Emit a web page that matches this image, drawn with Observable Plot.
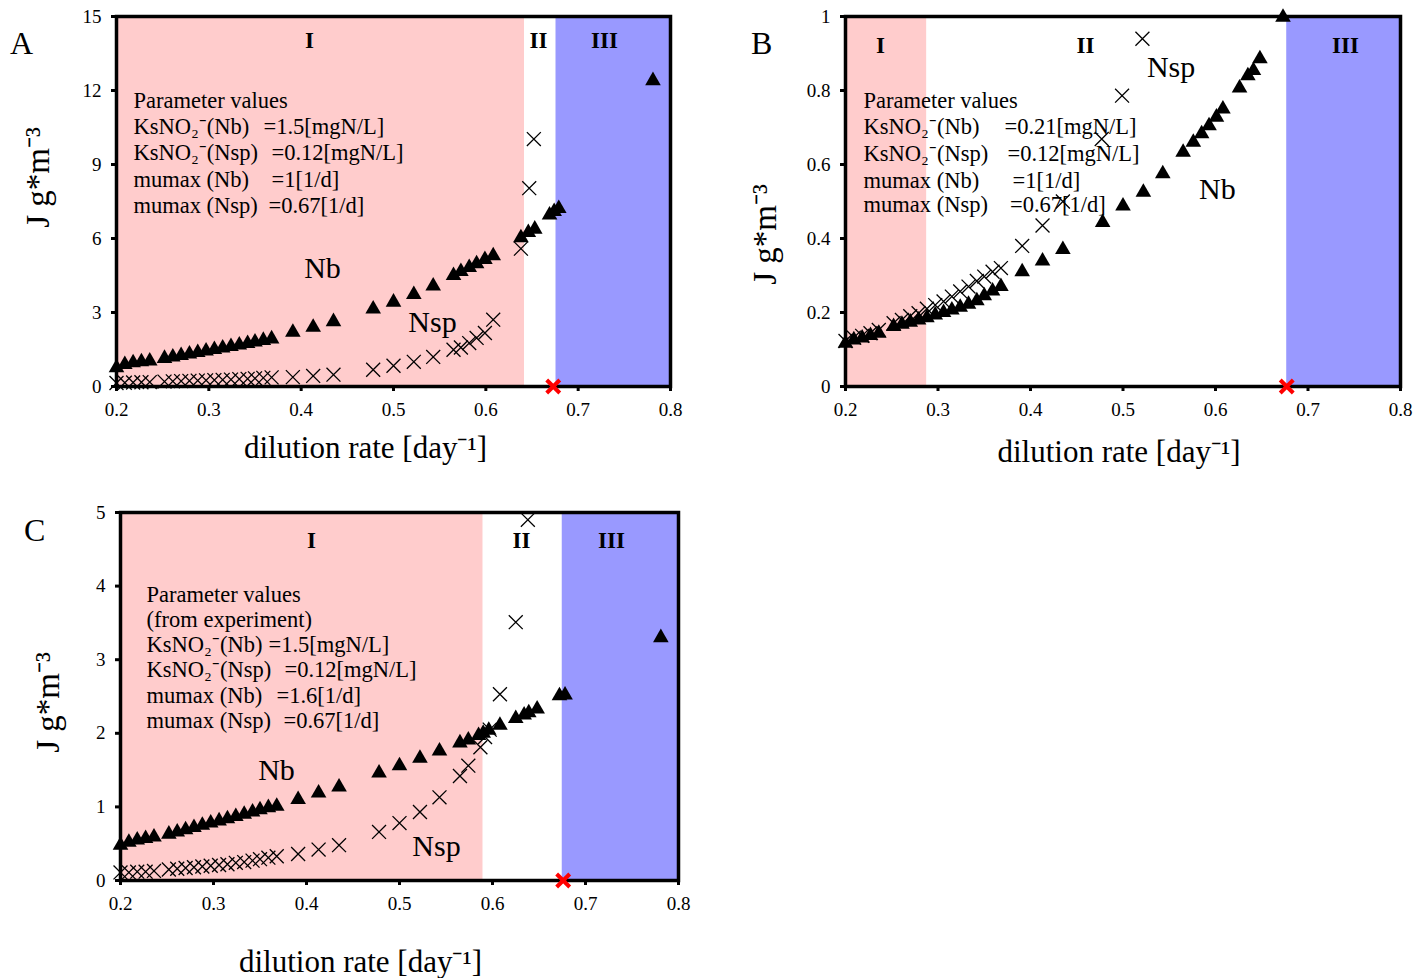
<!DOCTYPE html>
<html><head><meta charset="utf-8">
<script src="https://cdn.jsdelivr.net/npm/d3@7"></script>
<script src="https://cdn.jsdelivr.net/npm/@observablehq/plot@0.6"></script>
<style>
body{margin:0;background:#fff;width:1428px;height:978px;position:relative;overflow:hidden;font-family:"Liberation Serif",serif;}
.panel{position:absolute;}
.letter{position:absolute;font-size:32px;font-family:"Liberation Serif",serif;line-height:1;color:#000;}
</style></head><body>
<div id="pA" class="panel" style="left:0px;top:0px"></div>
<div id="pB" class="panel" style="left:720px;top:0px"></div>
<div id="pC" class="panel" style="left:0px;top:495px"></div>
<div class="letter" style="left:10px;top:27px">A</div>
<div class="letter" style="left:751px;top:27px">B</div>
<div class="letter" style="left:24px;top:514px">C</div>
<script>
// ---------- data ----------
const xLow = [0.200, 0.209, 0.218, 0.227, 0.236,
  0.252, 0.261, 0.270, 0.279, 0.288, 0.297, 0.306, 0.315, 0.324, 0.333, 0.342, 0.350, 0.359, 0.368,
  0.391, 0.413, 0.435, 0.478, 0.500, 0.522, 0.543];
const xTicks = [0.2, 0.3, 0.4, 0.5, 0.6, 0.7, 0.8];

// Panel A
const xA_Nb = [...xLow, 0.565, 0.573, 0.582, 0.590, 0.599, 0.608, 0.638, 0.646, 0.653, 0.669, 0.674, 0.679, 0.781];
const A_Nb = [0.76, 0.89, 0.96, 1.00, 1.03, 1.14, 1.20, 1.26, 1.32, 1.38, 1.44, 1.50, 1.56, 1.62, 1.68, 1.74, 1.80, 1.87, 1.93,
  2.20, 2.40, 2.63, 3.14, 3.42, 3.73, 4.07, 4.50, 4.66, 4.82, 4.98, 5.15, 5.30, 6.03, 6.24, 6.38, 6.95, 7.09, 7.22, 12.4];
const xA_Nsp = [...xLow, 0.565, 0.573, 0.582, 0.590, 0.599, 0.608, 0.638, 0.647, 0.652];
const A_Nsp = [0.14, 0.15, 0.16, 0.17, 0.18, 0.20, 0.21, 0.22, 0.23, 0.24, 0.25, 0.26, 0.27, 0.28, 0.30, 0.31, 0.33, 0.35, 0.37,
  0.38, 0.43, 0.48, 0.68, 0.84, 1.00, 1.20, 1.49, 1.58, 1.76, 1.97, 2.17, 2.71, 5.59, 8.04, 10.03];
const A_bounds = [0.2, 0.642, 0.676, 0.8];
const A_yTicks = [0, 3, 6, 9, 12, 15];

// Panel B
const xB_Nb = [...xLow, 0.565, 0.576, 0.585, 0.593, 0.601, 0.608, 0.626, 0.635, 0.641, 0.648, 0.673];
const B_Nb = [0.117, 0.126, 0.131, 0.138, 0.144, 0.162, 0.168, 0.174, 0.180, 0.186, 0.193, 0.200, 0.207, 0.214, 0.222, 0.232, 0.245, 0.258, 0.270,
  0.310, 0.339, 0.370, 0.443, 0.488, 0.525, 0.575, 0.633, 0.660, 0.683, 0.705, 0.728, 0.750, 0.807, 0.840, 0.854, 0.886, 0.998];
const xB_Nsp = [...xLow.slice(0, 22), 0.477, 0.499, 0.521];
const B_Nsp = [0.123, 0.132, 0.137, 0.144, 0.153, 0.171, 0.180, 0.190, 0.198, 0.210, 0.220, 0.230, 0.243, 0.257, 0.270, 0.285, 0.297, 0.310, 0.320,
  0.380, 0.435, 0.500, 0.669, 0.786, 0.940];
const B_bounds = [0.2, 0.288, 0.677, 0.8];
const B_yTicks = [0, 0.2, 0.4, 0.6, 0.8, 1];

// Panel C
const xC_Nb = [...xLow, 0.565, 0.574, 0.585, 0.590, 0.596, 0.608, 0.625, 0.634, 0.639, 0.648, 0.672, 0.678, 0.781];
const C_Nb = [0.48, 0.52, 0.55, 0.57, 0.59, 0.63, 0.66, 0.69, 0.72, 0.75, 0.78, 0.81, 0.84, 0.87, 0.90, 0.93, 0.96, 0.99, 1.01,
  1.10, 1.19, 1.27, 1.46, 1.56, 1.66, 1.76, 1.87, 1.91, 1.97, 2.00, 2.04, 2.11, 2.20, 2.25, 2.28, 2.33, 2.51, 2.52, 3.30];
const xC_Nsp = [...xLow, 0.565, 0.574, 0.587, 0.592, 0.597, 0.608, 0.625, 0.638];
const C_Nsp = [0.11, 0.11, 0.12, 0.12, 0.13, 0.15, 0.16, 0.17, 0.18, 0.19, 0.20, 0.21, 0.22, 0.24, 0.25, 0.27, 0.29, 0.31, 0.33,
  0.36, 0.42, 0.48, 0.66, 0.78, 0.93, 1.13, 1.42, 1.56, 1.81, 1.95, 2.05, 2.53, 3.51, 4.90];
const C_bounds = [0.2, 0.590, 0.675, 0.8];
const C_yTicks = [0, 1, 2, 3, 4, 5];

// washout point (red cross) for each panel
const washout = [0.673, 0.677, 0.676];

const regionNames = ["I", "II", "III"];
const regionColors = ["#ffcccc", "#ffffff", "#9999ff"];

// parameter text
const A_paramLabels = ["Parameter values", "KsNO\u2082\u207B(Nb)", "KsNO\u2082\u207B(Nsp)", "mumax (Nb)", "mumax (Nsp)"];
const A_paramValues = ["", "=1.5[mgN/L]", "=0.12[mgN/L]", "=1[1/d]", "=0.67[1/d]"];
const B_paramLabels = ["Parameter values", "KsNO\u2082\u207B(Nb)", "KsNO\u2082\u207B(Nsp)", "mumax (Nb)", "mumax (Nsp)"];
const B_paramValues = ["", "=0.21[mgN/L]", "=0.12[mgN/L]", "=1[1/d]", "=0.67[1/d]"];
const C_paramLabels = ["Parameter values", "(from experiment)", "KsNO\u2082\u207B(Nb)", "KsNO\u2082\u207B(Nsp)", "mumax (Nb)", "mumax (Nsp)"];
const C_paramValues = ["", "", "=1.5[mgN/L]", "=0.12[mgN/L]", "=1.6[1/d]", "=0.67[1/d]"];

const xLabel = "dilution rate [day\u207B\u00B9]";
const yLabel = "J g*m\u207B\u00B3";

// ---------- drawing ----------
const FONT = "'Liberation Serif', 'Times New Roman', serif";

function panel(cfg) {
  const nb = cfg.xNb.map((x, i) => ({x, y: cfg.nb[i]}));
  const nsp = cfg.xNsp.map((x, i) => ({x, y: cfg.nsp[i]}));
  const regions = regionNames.map((n, i) => ({x1: cfg.bounds[i], x2: cfg.bounds[i + 1], fill: regionColors[i]}));
  const [y0, y1] = cfg.yDomain;
  const params = cfg.paramLabels.map((t, i) => ({t, x: cfg.paramX, y: cfg.paramY[i]}));
  const vals = cfg.paramValues.map((t, i) => ({t, x: cfg.valueX[i], y: cfg.paramY[i]})).filter(d => d.t);
  const rlab = regionNames.map((t, i) => ({t, x: cfg.regionX[i], y: cfg.regionY}));
  return Plot.plot({
    width: cfg.width, height: cfg.height,
    marginLeft: cfg.ml, marginRight: cfg.mr, marginTop: cfg.mt, marginBottom: cfg.mb,
    x: {domain: [0.2, 0.8]},
    y: {domain: cfg.yDomain},
    color: {type: "identity"},
    style: {fontFamily: FONT, fontSize: "19px", background: "transparent", color: "#000", overflow: "visible"},
    marks: [
      Plot.rect(regions, {x1: "x1", x2: "x2", y1: () => y0, y2: () => y1, fill: "fill"}),
      Plot.axisX({ticks: xTicks, tickFormat: d => d.toFixed(1), tickSize: 5, tickPadding: 11, fontSize: 19, label: null, strokeWidth: 3}),
      Plot.axisY({ticks: cfg.yTicks, tickFormat: d => String(d), tickSize: 5, tickPadding: 10, fontSize: 19, label: null, strokeWidth: 3}),
      Plot.frame({stroke: "#000", strokeWidth: 3.5}),
      Plot.text(params, {x: "x", y: "y", text: "t", textAnchor: "start", fontSize: 22.5}),
      Plot.text(vals, {x: "x", y: "y", text: "t", textAnchor: "start", fontSize: 22.5}),
      Plot.text(rlab, {x: "x", y: "y", text: "t", fontSize: 23, fontWeight: "bold"}),
      Plot.text([{t: "Nb", x: cfg.nbLab[0], y: cfg.nbLab[1]}, {t: "Nsp", x: cfg.nspLab[0], y: cfg.nspLab[1]}], {x: "x", y: "y", text: "t", fontSize: 30}),
      Plot.dot(nsp, {x: "x", y: "y", symbol: "times", r: 6.4, stroke: "#000", strokeWidth: 1.3}),
      Plot.dot(nb, {x: "x", y: "y", symbol: "triangle", r: 5.8, fill: "#000", stroke: "none"}),
      Plot.dot([{x: cfg.washout, y: y0}], {x: "x", y: "y", symbol: "times", r: 6, stroke: "#ff0000", strokeWidth: 4}),
      Plot.text([yLabel], {frameAnchor: "left", text: d => d, rotate: -90, textAnchor: "middle", lineAnchor: "middle", dx: cfg.ylDx, dy: cfg.ylDy, fontSize: 33}),
      Plot.text([xLabel], {frameAnchor: "bottom", text: d => d, textAnchor: "middle", lineAnchor: "middle", dx: cfg.xlDx, dy: cfg.xlDy, fontSize: 31})
    ]
  });
}

document.getElementById("pA").append(panel({
  width: 700, height: 475, ml: 116, mr: 30, mt: 16, mb: 89,
  xNb: xA_Nb, nb: A_Nb, xNsp: xA_Nsp, nsp: A_Nsp, bounds: A_bounds,
  yDomain: [0, 15], yTicks: A_yTicks, washout: washout[0],
  paramLabels: A_paramLabels, paramValues: A_paramValues,
  paramX: 0.2184, paramY: [11.59, 10.54, 9.46, 8.39, 7.34], valueX: [0, 0.3592, 0.3679, 0.3679, 0.3646],
  regionX: [0.409, 0.657, 0.7285], regionY: 14.03,
  nbLab: [0.4231, 4.78], nspLab: [0.5422, 2.59],
  ylDx: -78, ylDy: -24, xlDx: -28, xlDy: 62
}));

document.getElementById("pB").append(panel({
  width: 708, height: 475, ml: 125, mr: 28, mt: 16, mb: 89,
  xNb: xB_Nb, nb: B_Nb, xNsp: xB_Nsp, nsp: B_Nsp, bounds: B_bounds,
  yDomain: [0, 1], yTicks: B_yTicks, washout: washout[1],
  paramLabels: B_paramLabels, paramValues: B_paramValues,
  paramX: 0.2195, paramY: [0.772, 0.7016, 0.6297, 0.5568, 0.4903], valueX: [0, 0.3719, 0.3751, 0.3805, 0.3779],
  regionX: [0.2378, 0.4595, 0.7405], regionY: 0.9216,
  nbLab: [0.602, 0.532], nspLab: [0.552, 0.862],
  ylDx: -80, ylDy: 33, xlDx: -4, xlDy: 66
}));

document.getElementById("pC").append(panel({
  width: 700, height: 483, ml: 120, mr: 22, mt: 17, mb: 98,
  xNb: xC_Nb, nb: C_Nb, xNsp: xC_Nsp, nsp: C_Nsp, bounds: C_bounds,
  yDomain: [0, 5], yTicks: C_yTicks, washout: washout[2],
  paramLabels: C_paramLabels, paramValues: C_paramValues,
  paramX: 0.228, paramY: [3.886, 3.546, 3.202, 2.859, 2.515, 2.173], valueX: [0, 0, 0.3591, 0.3763, 0.3677, 0.3753],
  regionX: [0.4054, 0.6312, 0.728], regionY: 4.62,
  nbLab: [0.3677, 1.495], nspLab: [0.5398, 0.462],
  ylDx: -72, ylDy: 6, xlDx: -39, xlDy: 82
}));
</script>
</body></html>
